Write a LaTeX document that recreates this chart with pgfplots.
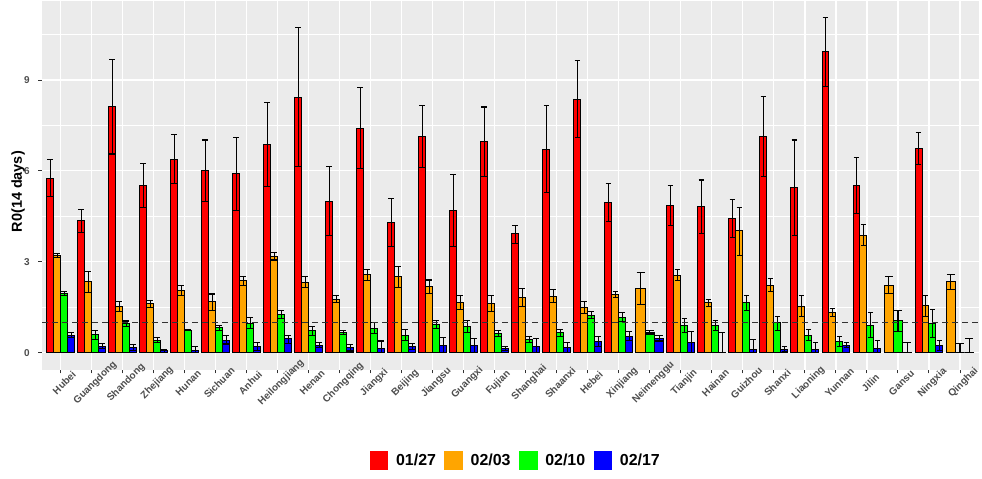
\documentclass[border=0pt]{standalone}
\usepackage{fontspec}
\setmainfont{Liberation Sans}
\usepackage{pgfplots}
\usepackage{pgfplotstable}
\pgfplotsset{compat=1.18}
\definecolor{panelbg}{HTML}{EBEBEB}
\definecolor{ticklab}{HTML}{4D4D4D}
\definecolor{tickcol}{HTML}{333333}
\definecolor{cRed}{HTML}{FF0000}
\definecolor{cOrange}{HTML}{FFA500}
\definecolor{cGreen}{HTML}{00FF00}
\definecolor{cBlue}{HTML}{0000FF}

% 01/27 (4-bar groups)
\pgfplotstableread{
x y lo hi
1 5.75 5.15 6.38
2 4.38 3.97 4.74
3 8.12 6.56 9.68
4 5.52 4.80 6.25
5 6.38 5.59 7.21
6 6.01 4.98 7.02
7 5.90 4.69 7.11
8 6.88 5.48 8.26
9 8.43 6.14 10.73
10 4.99 3.87 6.14
11 7.41 6.08 8.76
12 4.30 3.50 5.08
13 7.15 6.12 8.17
14 4.69 3.50 5.87
15 6.96 5.83 8.11
16 3.92 3.61 4.20
17 6.72 5.29 8.15
18 8.37 7.11 9.63
19 4.96 4.32 5.59
21 4.87 4.21 5.53
22 4.82 3.94 5.70
23 4.43 3.81 5.06
24 7.15 5.83 8.47
25 5.46 3.88 7.02
26 9.93 8.80 11.07
27 5.51 4.60 6.45
29 6.74 6.22 7.27
}\redA

% 02/03 (4-bar groups)
\pgfplotstableread{
x y lo hi
1 3.20 3.14 3.28
2 2.34 1.99 2.67
3 1.52 1.35 1.69
4 1.61 1.50 1.72
5 2.07 1.90 2.23
6 1.68 1.41 1.94
7 2.38 2.23 2.51
8 3.19 3.06 3.32
9 2.32 2.16 2.51
10 1.76 1.65 1.89
11 2.57 2.40 2.75
12 2.51 2.16 2.86
13 2.18 1.96 2.40
14 1.66 1.43 1.90
15 1.63 1.35 1.90
16 1.83 1.52 2.11
17 1.87 1.65 2.09
18 1.50 1.30 1.68
19 1.93 1.83 2.01
21 2.56 2.38 2.75
22 1.65 1.54 1.77
23 4.03 3.22 4.80
24 2.23 2.01 2.45
25 1.54 1.19 1.88
26 1.32 1.19 1.46
27 3.88 3.53 4.24
29 1.55 1.19 1.90
}\orangeA
% 02/03 (3-bar groups)
\pgfplotstableread{
x y lo hi
20 2.12 1.60 2.64
28 2.23 1.96 2.51
30 2.34 2.09 2.59
}\orangeB

% 02/10 (4-bar groups)
\pgfplotstableread{
x y lo hi
1 1.96 1.89 2.02
2 0.61 0.44 0.74
3 0.97 0.88 1.05
4 0.42 0.34 0.50
5 0.75 0.73 0.77
6 0.83 0.75 0.89
7 0.97 0.80 1.16
8 1.27 1.13 1.41
9 0.72 0.58 0.88
10 0.67 0.61 0.75
11 0.80 0.64 0.99
12 0.58 0.42 0.77
13 0.94 0.80 1.08
14 0.86 0.66 1.06
15 0.64 0.55 0.75
16 0.44 0.34 0.55
17 0.67 0.55 0.77
18 1.24 1.13 1.35
19 1.17 1.02 1.32
21 0.89 0.66 1.13
22 0.89 0.75 1.06
23 1.65 1.41 1.90
24 0.99 0.75 1.19
25 0.58 0.42 0.77
26 0.36 0.20 0.55
27 0.89 0.50 1.33
29 0.97 0.50 1.43
}\greenA
\pgfplotstableread{
x y lo hi
20 0.67 0.62 0.73
28 1.05 0.69 1.39
30 0.00 0.00 0.31
}\greenB

% 02/17 (4-bar groups)
\pgfplotstableread{
x y lo hi
1 0.58 0.51 0.68
2 0.22 0.14 0.31
3 0.18 0.09 0.26
4 0.06 0.00 0.12
5 0.07 0.00 0.20
6 0.42 0.29 0.56
7 0.20 0.09 0.33
8 0.47 0.31 0.58
9 0.25 0.18 0.33
10 0.17 0.06 0.28
11 0.14 0.00 0.39
12 0.20 0.12 0.31
13 0.25 0.00 0.51
14 0.23 0.00 0.47
15 0.14 0.09 0.20
16 0.20 0.00 0.47
17 0.17 0.00 0.34
18 0.36 0.20 0.55
19 0.55 0.42 0.69
21 0.33 0.00 0.69
22 0.00 0.00 0.66
23 0.12 0.00 0.44
24 0.11 0.03 0.22
25 0.11 0.00 0.33
26 0.25 0.18 0.33
27 0.14 0.00 0.42
29 0.23 0.09 0.40
}\blueA
\pgfplotstableread{
x y lo hi
20 0.47 0.39 0.56
28 0.00 0.00 0.34
30 0.00 0.00 0.47
}\blueB

\pgfplotsset{
  errstyle/.style={error bars/.cd, y dir=both, y explicit,
    error bar style={black, line width=1.1bp},
    error mark options={rotate=90, black, line width=1.1bp, mark size=#1}},
}

\begin{document}
\begin{tikzpicture}
\begin{axis}[
  name=ax,
  x=31bp, y=30.3bp,
  xmin=0.4, xmax=30.6,
  ymin=-0.553, ymax=11.62,
  axis line style={draw=none},
  axis background/.style={fill=panelbg},
  xtick={1,...,30},
  xticklabels={Hubei,Guangdong,Shandong,Zhejiang,Hunan,Sichuan,Anhui,Heilongjiang,Henan,Chongqing,Jiangxi,Beijing,Jiangsu,Guangxi,Fujian,Shanghai,Shaanxi,Hebei,Xinjiang,Neimenggu,Tianjin,Hainan,Guizhou,Shanxi,Liaoning,Yunnan,Jilin,Gansu,Ningxia,Qinghai},
  ytick={0,3,6,9},
  yticklabels={0,3,6,9},
  minor ytick={1.5,4.5,7.5,10.5},
  grid=both,
  major grid style={white, line width=1.1bp},
  minor grid style={white, line width=0.55bp},
  tick pos=left,
  tick align=outside,
  major tick length=3.7bp,
  minor tick length=0pt,
  tick style={tickcol, line width=1bp},
  yticklabel style={font=\bfseries\fontsize{10}{12}\selectfont, text=ticklab, anchor=east, inner sep=0pt, xshift=-8.5bp},
  xticklabel style={font=\bfseries\fontsize{10}{12}\selectfont, text=ticklab, xshift=3.5bp, yshift=-9.5bp, rotate=45, anchor=center, inner sep=0pt},
  ylabel={R0(14 days)},
  every axis y label/.style={at={(rel axis cs:-0.0257,0.482)}, rotate=90, anchor=center, font=\bfseries\fontsize{14.5}{17}\selectfont},
  legend columns=4,
  legend style={at={(rel axis cs:0.5047,-0.2466)}, anchor=center, draw=none, fill=none,
    column sep=8.3bp, nodes={inner sep=0pt}, font=\bfseries\fontsize{16}{19}\selectfont},
  every axis plot/.append style={forget plot},
]
% 01/27
\addplot[ybar, bar width=0.225, bar shift=0pt, fill=cRed, draw=black, line width=1bp, errstyle=2.9bp]
  table[x expr=\thisrow{x}-0.3375, y=y, y error plus expr=\thisrow{hi}-\thisrow{y}, y error minus expr=\thisrow{y}-\thisrow{lo}] {\redA};
% 02/03
\addplot[ybar, bar width=0.225, bar shift=0pt, fill=cOrange, draw=black, line width=1bp, errstyle=2.9bp]
  table[x expr=\thisrow{x}-0.1125, y=y, y error plus expr=\thisrow{hi}-\thisrow{y}, y error minus expr=\thisrow{y}-\thisrow{lo}] {\orangeA};
\addplot[ybar, bar width=0.3, bar shift=0pt, fill=cOrange, draw=black, line width=1bp, errstyle=3.9bp]
  table[x expr=\thisrow{x}-0.3, y=y, y error plus expr=\thisrow{hi}-\thisrow{y}, y error minus expr=\thisrow{y}-\thisrow{lo}] {\orangeB};
% 02/10
\addplot[ybar, bar width=0.225, bar shift=0pt, fill=cGreen, draw=black, line width=1bp, errstyle=2.9bp]
  table[x expr=\thisrow{x}+0.1125, y=y, y error plus expr=\thisrow{hi}-\thisrow{y}, y error minus expr=\thisrow{y}-\thisrow{lo}] {\greenA};
\addplot[ybar, bar width=0.3, bar shift=0pt, fill=cGreen, draw=black, line width=1bp, errstyle=3.9bp]
  table[x=x, y=y, y error plus expr=\thisrow{hi}-\thisrow{y}, y error minus expr=\thisrow{y}-\thisrow{lo}] {\greenB};
% 02/17
\addplot[ybar, bar width=0.225, bar shift=0pt, fill=cBlue, draw=black, line width=1bp, errstyle=2.9bp]
  table[x expr=\thisrow{x}+0.3375, y=y, y error plus expr=\thisrow{hi}-\thisrow{y}, y error minus expr=\thisrow{y}-\thisrow{lo}] {\blueA};
\addplot[ybar, bar width=0.3, bar shift=0pt, fill=cBlue, draw=black, line width=1bp, errstyle=3.9bp]
  table[x expr=\thisrow{x}+0.3, y=y, y error plus expr=\thisrow{hi}-\thisrow{y}, y error minus expr=\thisrow{y}-\thisrow{lo}] {\blueB};
% reference line
\addplot[dash pattern=on 5.5bp off 4.5bp, line width=1.4bp, color=tickcol] coordinates {(0.4,1) (30.6,1)};
% legend
\addlegendimage{legend image code/.code={\fill[cRed] (0bp,-8.85bp) rectangle (17.7bp,8.85bp);}}
\addlegendentry{01/27}
\addlegendimage{legend image code/.code={\fill[cOrange] (0bp,-8.85bp) rectangle (17.7bp,8.85bp);}}
\addlegendentry{02/03}
\addlegendimage{legend image code/.code={\fill[cGreen] (0bp,-8.85bp) rectangle (17.7bp,8.85bp);}}
\addlegendentry{02/10}
\addlegendimage{legend image code/.code={\fill[cBlue] (0bp,-8.85bp) rectangle (17.7bp,8.85bp);}}
\addlegendentry{02/17}
\end{axis}
\path ([xshift=-42.1bp,yshift=-108.5bp]ax.south west) rectangle ([xshift=3.4bp,yshift=0.6bp]ax.north east);
\end{tikzpicture}
\end{document}
